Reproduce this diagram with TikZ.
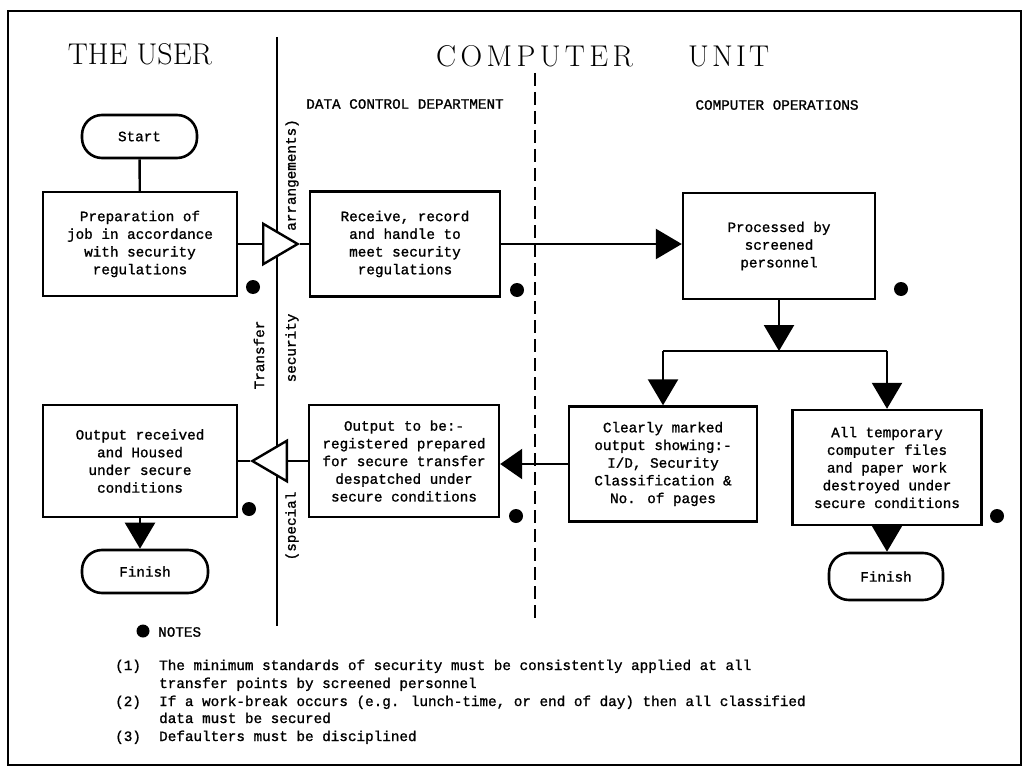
\documentclass[tikz,border=0pt]{standalone}
\usepackage{fontspec}
\newfontfamily\monofnt[FakeBold=1.2]{Liberation Mono}
\usetikzlibrary{arrows.meta}
\begin{document}
\begin{tikzpicture}[x=1pt,y=-1pt,
  every node/.style={font=\monofnt\fontsize{14.3}{17.7}\selectfont},
  box/.style={draw,line width=2.4pt,inner sep=0pt,align=center},
  term/.style={draw,line width=2.6pt,rounded corners=20pt,inner sep=0pt},
  conn/.style={line width=2.4pt},
  fa/.style={-{Triangle[length=26pt,width=30pt]}},
  fal/.style={-{Triangle[length=22pt,width=30pt]}},
  oa/.style={-{Triangle[open,length=38pt,width=44pt,fill=white]}},
  dot/.style={circle,fill,inner sep=0pt,minimum size=14pt},
  lbl/.style={inner sep=0pt},
  title/.style={inner sep=0pt,font=\fontsize{30}{32}\selectfont}
]
\useasboundingbox (0,0) rectangle (1030,770);
% frame
\draw[line width=1.5pt] (8,11) rectangle (1021,765);
% lane lines
\draw[line width=2pt] (277,37) -- (277,626);
\draw[line width=2pt,dash pattern=on 13pt off 6pt] (535,73) -- (535,620);
% titles
\node[title] (tuser) at (140,54) {THE USER};
\node[title,anchor=west] (tcu) at (436,56) {C\hspace{4.4pt}O\hspace{4.4pt}M\hspace{4.4pt}P\hspace{4.4pt}U\hspace{4.4pt}T\hspace{4.4pt}E\hspace{4.4pt}R\hspace{55pt}U\hspace{3.2pt}N\hspace{3.2pt}I\hspace{3.2pt}T};
\node[lbl] (ldcd) at (405,104) {DATA CONTROL DEPARTMENT};
\node[lbl] (lco) at (777,105) {COMPUTER OPERATIONS};
% rotated labels
\node[lbl,rotate=90] (rarr) at (292,175) {arrangements)};
\node[lbl,rotate=90] (rsec) at (292,348) {security};
\node[lbl,rotate=90] (rtra) at (259,355) {Transfer};
\node[lbl,rotate=90] (rspe) at (292,526) {(special};
% nodes
\node[term,minimum width=115pt,minimum height=43pt] (start) at (139.5,136.5) {Start};
\node[box,minimum width=194pt,minimum height=104pt] (b1) at (140,244) {Preparation of\\job in accordance\\with security\\regulations};
\node[box,minimum width=190pt,minimum height=105pt] (b2) at (405,244) {Receive, record\\and handle to\\meet security\\regulations};
\node[box,minimum width=192pt,minimum height=106pt] (b3) at (779,246) {Processed by\\screened\\personnel};
\node[box,minimum width=188pt,minimum height=115pt] (b4) at (663,464) {Clearly marked\\output showing:-\\I/D, Security\\Classification \&\\No. of pages};
\node[box,minimum width=189pt,minimum height=115pt] (b5) at (887,467.5) {All temporary\\computer files\\and paper work\\destroyed under\\secure conditions};
\node[box,minimum width=190pt,minimum height=112pt] (b6) at (404,461) {Output to be:-\\registered prepared\\for secure transfer\\despatched under\\secure conditions};
\node[box,minimum width=194pt,minimum height=112pt] (b7) at (140,461) {Output received\\and Housed\\under secure\\conditions};
\node[term,minimum width=126pt,minimum height=43pt] (fin1) at (145,571.5) {Finish};
\node[term,minimum width=114pt,minimum height=47pt] (fin2) at (886,576.5) {Finish};
% dots
\node[dot] (d1) at (253,287) {};
\node[dot] (d2) at (517,290) {};
\node[dot] (d3) at (901,289) {};
\node[dot] (d4) at (516,516) {};
\node[dot] (d5) at (997,516) {};
\node[dot] (d7) at (249,509) {};
% connectors
\draw[conn] (start) -- (b1);
\coordinate (ot1) at (300,244);
\draw[conn,oa] (b1.east) -- (ot1);
\draw[conn] (ot1) -- (b2.west);
\draw[conn,fa] (b2.east) -- (b3.west |- b2.east);
\coordinate (bc) at (779,351);
\coordinate (bl) at (663,351);
\coordinate (br) at (887,351);
\draw[conn,fa] (b3.south) -- (bc);
\draw[conn] (bl) -- (br);
\draw[conn,fa] (bl) -- (b4.north);
\draw[conn,fa] (br) -- (b5.north);
\draw[conn,fa] (b5.south) -- (b5.south |- fin2.north);
\draw[conn,fal] (b4.west) -- (b6.east |- b4.west);
\coordinate (ot2) at (250,461);
\draw[conn,oa] (b6.west) -- (ot2);
\draw[conn] (ot2) -- (b7.east);
\draw[conn,fa] (b7.south) -- (b7.south |- fin1.north);
% notes
\node[dot,minimum size=13pt] (nd) at (143,631) {};
\node[lbl,anchor=west] (notes) at (158,632) {NOTES};
\node[lbl,anchor=base west] (n1) at (115,670) {(1)};
\node[lbl,anchor=base west] (n1a) at (159,670) {The minimum standards of security must be consistently applied at all};
\node[lbl,anchor=base west] (n1b) at (159,688) {transfer points by screened personnel};
\node[lbl,anchor=base west] (n2) at (115,706) {(2)};
\node[lbl,anchor=base west] (n2a) at (159,706) {If a work-break occurs (e.g. lunch-time, or end of day) then all classified};
\node[lbl,anchor=base west] (n2b) at (159,723) {data must be secured};
\node[lbl,anchor=base west] (n3) at (115,741) {(3)};
\node[lbl,anchor=base west] (n3a) at (159,741) {Defaulters must be disciplined};
\end{tikzpicture}
\end{document}
